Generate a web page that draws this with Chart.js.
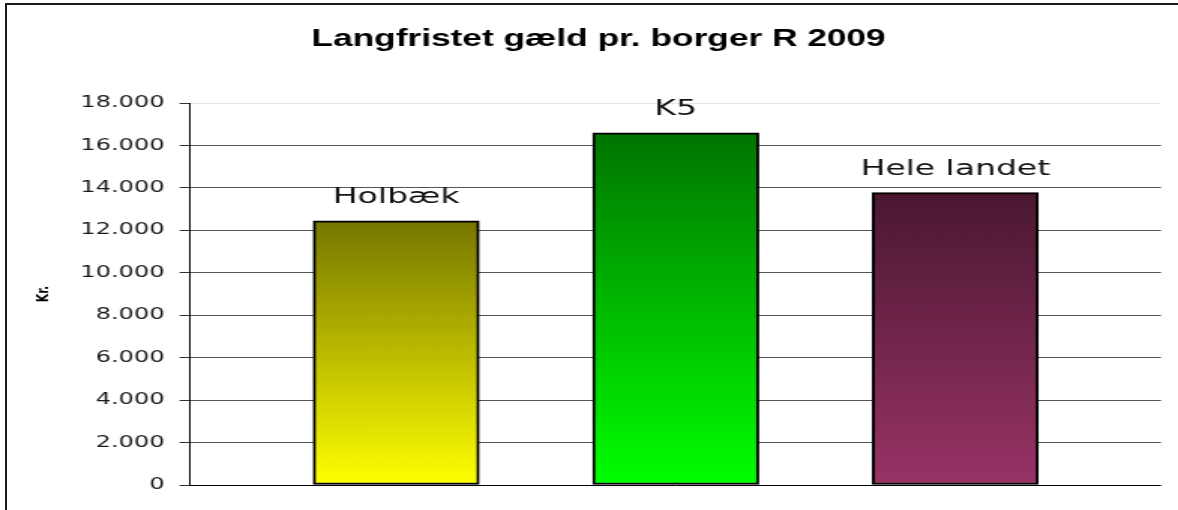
<!DOCTYPE html>
<html lang="da">
<head>
<meta charset="utf-8">
<title>Langfristet gæld pr. borger R 2009</title>
<script src="https://cdn.jsdelivr.net/npm/chart.js@4/dist/chart.umd.min.js"></script>
<style>
    html, body { margin: 0; padding: 0; background: #fff; overflow: hidden; }
    /* chart is drawn narrow and stretched sideways, like the reference */
    #wrap {
        position: absolute; left: 0; top: 0;
        width: 785px; height: 510px;
        transform: scaleX(1.50064);
        transform-origin: 0 0;
    }
    #frame {
        position: absolute; left: 5px; top: 3px;
        width: 1400px; height: 700px;
        border-left: 2px solid #1a1a1a;
        border-top: 2px solid #1a1a1a;
        pointer-events: none;
    }
</style>
</head>
<body>
<div id="wrap"><canvas id="gaeld" width="785" height="510"></canvas></div>
<div id="frame"></div>
<script>
// Data
const categories = ["Holbæk", "K5", "Hele landet"];
const values = [12450, 16590, 13780];
const topColors = ["#767600", "#007400", "#4a1830"];
const bottomColors = ["#ffff00", "#00ff00", "#993366"];
const yTicks = [0, 2000, 4000, 6000, 8000, 10000, 12000, 14000, 16000, 18000];

function formatKr(v) {
    return String(v).replace(/\B(?=(\d{3})+(?!\d))/g, ".");
}

// labels over the bars
const barLabels = {
    id: "barLabels",
    afterDatasetsDraw(chart) {
        const ctx = chart.ctx;
        const meta = chart.getDatasetMeta(0);
        ctx.save();
        ctx.font = "22px 'DejaVu Sans'";
        ctx.fillStyle = "#111";
        ctx.textAlign = "center";
        ctx.textBaseline = "alphabetic";
        meta.data.forEach((bar, i) => {
            ctx.fillText(categories[i], bar.x, bar.y - 18);
        });
        ctx.restore();
    },
};

const whiteBg = {
    id: "whiteBg",
    beforeDraw(chart) {
        const ctx = chart.ctx;
        ctx.save();
        ctx.fillStyle = "#fff";
        ctx.fillRect(0, 0, chart.width, chart.height);
        ctx.restore();
    },
};

new Chart(document.getElementById("gaeld"), {
    type: "bar",
    data: {
        datasets: [
            {
                label: "Kr.",
                data: values.map((v, i) => ({ x: i + 1, y: v })),
                backgroundColor: (c) => {
                    const chart = c.chart;
                    if (!chart.chartArea || c.dataIndex === undefined) return topColors[0];
                    const yScale = chart.scales.y;
                    const top = yScale.getPixelForValue(values[c.dataIndex]);
                    const base = yScale.getPixelForValue(0);
                    const g = chart.ctx.createLinearGradient(0, top, 0, base);
                    g.addColorStop(0, topColors[c.dataIndex]);
                    g.addColorStop(1, bottomColors[c.dataIndex]);
                    return g;
                },
                borderColor: "#000",
                borderWidth: 2,
                borderSkipped: false,
                barThickness: 110.6,
            },
        ],
    },
    options: {
        responsive: false,
        animation: false,
        layout: { padding: { left: 24, right: 11.3, top: 0, bottom: 25 } },
        plugins: {
            legend: { display: false },
            tooltip: { enabled: false },
            title: {
                display: true,
                text: "Langfristet gæld pr. borger R 2009",
                color: "#000",
                font: { family: "'Liberation Sans'", size: 23.5, weight: "bold" },
                padding: { top: 25, bottom: 49.8 },
            },
        },
        scales: {
            x: {
                type: "linear",
                display: false,
                offset: false,
                min: 0.2625,
                max: 3.736,
            },
            y: {
                min: 0,
                max: 18000,
                afterFit(scale) { scale.width = 102.6; },
                afterBuildTicks(scale) { scale.ticks = yTicks.map((v) => ({ value: v })); },
                border: { display: true, color: "#000", width: 1 },
                grid: {
                    color: (c) => {
                        const v = c.tick ? c.tick.value : null;
                        if (v === 0) return "#000";
                        if (v === 18000) return "#e6e6e6";
                        return "#555";
                    },
                    tickColor: "#333",
                    tickLength: 7,
                    lineWidth: 1,
                },
                ticks: {
                    padding: 10,
                    color: "#1a1a1a",
                    font: { family: "'DejaVu Sans'", size: 16 },
                    callback: (v) => formatKr(v),
                },
                title: {
                    display: true,
                    text: "Kr.",
                    color: "#000",
                    font: { family: "'DejaVu Sans'", size: 11, weight: "bold" },
                    padding: { top: -1, bottom: 0 },
                },
            },
        },
    },
    plugins: [whiteBg, barLabels],
});
</script>
</body>
</html>
